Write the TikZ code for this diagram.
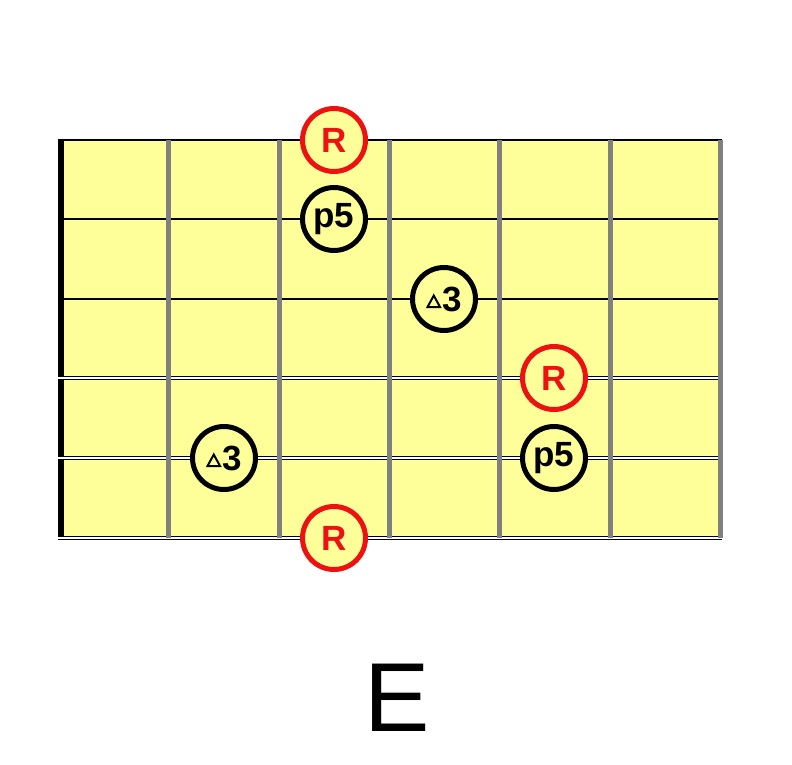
\documentclass[tikz,border=0pt]{standalone}
\usepackage{fontspec}
\setmainfont{Liberation Sans}
\usetikzlibrary{positioning}

\definecolor{boardyellow}{HTML}{FFFF99}
\definecolor{fretgrey}{HTML}{808080}
\definecolor{rootred}{HTML}{EE1111}

\tikzset{
  tone/.style = {circle, draw = black, line width = 5pt, fill = boardyellow,
                 minimum size = 63pt, inner sep = 0pt,
                 font = \fontsize{35}{35}\selectfont\bfseries},
  rootnote/.style = {tone, draw = rootred, text = rootred},
  fret/.style = {draw = fretgrey, line width = 5pt},
  thinstring/.style = {draw = black, line width = 1.2pt},
}

\newcommand{\majthird}{\tikz[x = 1pt, y = 1pt, baseline = -4pt]\draw[line width = 2pt, line join = miter]
    (0,0) -- (12.5,0) -- (6.25,11.5) -- cycle;\kern1pt 3}

\begin{document}
\begin{tikzpicture}[x = 1pt, y = -1pt]
                \useasboundingbox (0,0) rectangle (792,765);
                \fill[boardyellow] (58,140) rectangle (720,538);
                \draw[black, line width = 6pt] (61,140) -- (61,538);

                % strings
                \foreach \y in {140, 219, 299}
                    \draw[thinstring] (58,\y) -- (722,\y);
                \foreach \y in {378, 458, 538} {
                    \draw[black, line width = 3.5pt] (58,\y) -- (722,\y);
                    \draw[white, line width = 1.2pt] (58,\y) -- (722,\y);
                }

                % frets
                \foreach \x in {168, 279, 389, 499, 610, 720}
                    \draw[fret] (\x,140) -- (\x,538);

                \node[rootnote] (R1) at (334,140) {R};
                \node[tone] (P1) at (334,219) {p5};
                \node[tone] (T1) at (444,299) {\majthird};
                \node[rootnote] (R2) at (554,378) {R};
                \node[tone] (P2) at (554,458) {p5};
                \node[tone] (T2) at (224,458) {\majthird};
                \node[rootnote] (R3) at (334,538) {R};

                \node[font = \fontsize{98}{98}\selectfont] (name) at (397,698) {E};
            \end{tikzpicture}
\end{document}
